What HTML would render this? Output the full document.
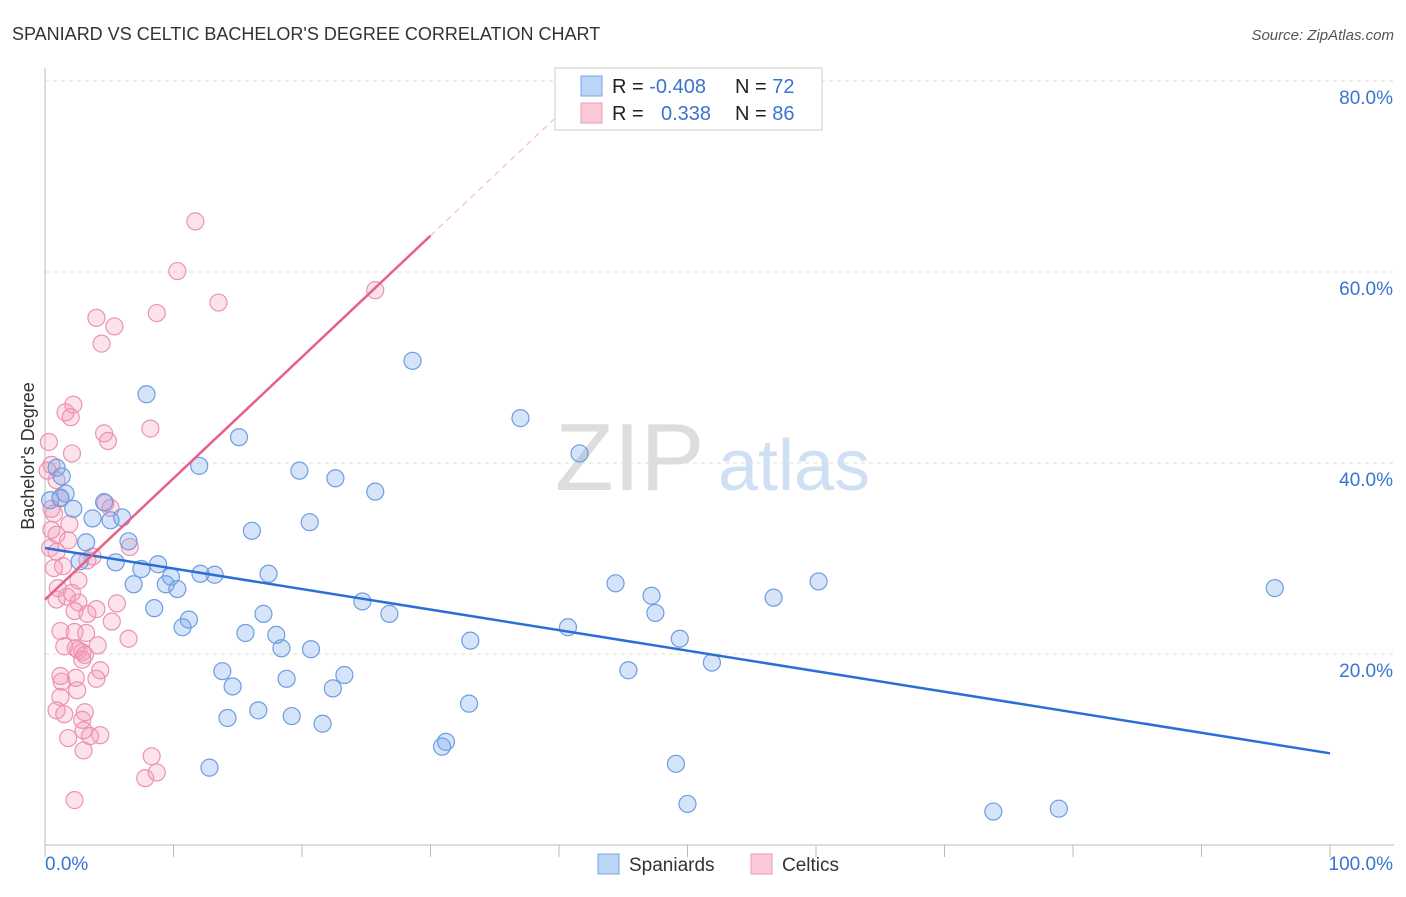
<!DOCTYPE html>
<html><head><meta charset="utf-8"><style>
body{margin:0;background:#fff;font-family:"Liberation Sans",sans-serif;}
svg text{font-family:"Liberation Sans",sans-serif;}
</style></head><body>
<svg id="chart" width="1406" height="892" xmlns="http://www.w3.org/2000/svg">
<text x="12" y="40" font-size="18" fill="#333">SPANIARD VS CELTIC BACHELOR'S DEGREE CORRELATION CHART</text>
<text x="1394" y="40" font-size="15" fill="#555" text-anchor="end" font-style="italic">Source: ZipAtlas.com</text>
<g>
<text x="555" y="490" font-size="96" fill="#ddd" font-family="Liberation Serif, serif">ZIP</text>
<text x="718" y="490" font-size="72" fill="#cfe0f4">atlas</text>
</g>
<text transform="translate(34,456) rotate(-90)" font-size="18" fill="#333" text-anchor="middle">Bachelor's Degree</text>
<g id="grid"></g>
<g id="axes"></g>
<g id="marks"></g>
<g>
<rect x="555" y="68" width="267" height="62" fill="#fff" stroke="#ddd" stroke-width="1.5"/>
<rect x="581" y="76" width="21" height="20" fill="#bcd4f6" stroke="#7aa6e6"/>
<rect x="581" y="103" width="21" height="20" fill="#fbc8d8" stroke="#ee9ab6"/>
<text x="612" y="93" font-size="20" fill="#222">R = <tspan fill="#3a74d0">-0.408</tspan></text>
<text x="735" y="93" font-size="20" fill="#222">N = <tspan fill="#3a74d0">72</tspan></text>
<text x="612" y="120" font-size="20" fill="#222">R = <tspan fill="#3a74d0" x="661">0.338</tspan></text>
<text x="735" y="120" font-size="20" fill="#222">N = <tspan fill="#3a74d0">86</tspan></text>
</g>
<g>
<rect x="598" y="854" width="21" height="20" fill="#bcd4f6" stroke="#7aa6e6"/>
<text x="629" y="871" font-size="19" fill="#333">Spaniards</text>
<rect x="751" y="854" width="21" height="20" fill="#fbc8d8" stroke="#ee9ab6"/>
<text x="782" y="871" font-size="19" fill="#333">Celtics</text>
</g>
</svg>
<script>
const yTicks=[20,40,60,80];
const yTickLabels=["20.0%","40.0%","60.0%","80.0%"];
const xTicks=[0,10,20,30,40,50,60,70,80,90,100];
const xTickLabels=["0.0%","100.0%"];
const blueX=[7.9,28.6,37.0,15.1,41.6,12.0,19.8,22.6,25.7,0.9,1.3,1.6,1.2,4.6,2.2,3.7,5.1,6.0,20.6,16.1,3.2,6.5,2.7,5.5,8.8,7.5,9.8,12.1,13.2,17.4,6.9,9.4,10.3,44.4,60.2,95.7,24.7,47.2,56.7,8.5,17.0,26.8,47.5,11.2,10.7,40.7,15.6,18.0,33.1,49.4,18.4,20.7,51.9,13.8,45.4,23.3,14.6,18.8,22.4,33.0,16.6,14.2,19.2,21.6,31.2,30.9,12.8,49.1,50.0,73.8,78.9,0.4];
const blueY=[47.2,50.7,44.7,42.7,41.0,39.7,39.2,38.4,37.0,39.5,38.6,36.8,36.3,35.9,35.2,34.2,34.0,34.3,33.8,32.9,31.7,31.8,29.7,29.6,29.4,28.9,28.1,28.4,28.3,28.4,27.3,27.3,26.8,27.4,27.6,26.9,25.5,26.1,25.9,24.8,24.2,24.2,24.3,23.6,22.8,22.8,22.2,22.0,21.4,21.6,20.6,20.5,19.1,18.2,18.3,17.8,16.6,17.4,16.4,14.8,14.1,13.3,13.5,12.7,10.8,10.3,8.1,8.5,4.3,3.5,3.8,36.1];
const pinkX=[11.7,10.3,13.5,25.7,4.0,5.4,8.7,4.4,2.2,1.6,2.0,8.2,4.6,4.9,0.3,2.1,0.5,0.2,0.9,1.2,0.5,0.7,5.1,4.7,1.9,0.5,0.9,1.8,0.4,0.9,0.7,6.6,3.7,1.4,2.6,2.1,1.7,0.9,2.6,5.6,4.0,5.2,2.3,3.3,1.2,2.3,3.2,6.5,4.1,1.5,2.6,2.9,3.1,2.4,2.9,4.3,1.2,2.4,4.0,1.3,2.5,1.2,0.9,1.5,3.1,2.9,3.0,4.3,1.8,3.5,3.0,8.3,7.8,8.7,2.3,1.0,3.3];
const pinkY=[65.3,60.1,56.8,58.1,55.2,54.3,55.7,52.5,46.1,45.3,44.8,43.6,43.1,42.3,42.2,41.0,39.8,39.2,38.2,36.4,35.2,34.7,35.3,35.8,33.6,33.0,32.5,31.9,31.1,30.7,29.0,31.2,30.2,29.2,27.7,26.4,26.0,25.7,25.4,25.3,24.7,23.4,24.5,24.2,22.4,22.3,22.2,21.6,20.9,20.8,20.4,20.2,19.9,20.6,19.4,18.3,17.7,17.5,17.4,17.1,16.2,15.5,14.1,13.7,13.9,13.1,12.0,11.5,11.2,11.4,9.9,9.3,7.0,7.6,4.7,26.9,29.8];
const blueTrend=[31.1,-0.215]; // intercept, slope
const pinkTrend=[25.7,1.27];
const pinkSolidEnd=30, pinkDashEnd=42.8;

const NS="http://www.w3.org/2000/svg";
const X0=45,X1=1330,Y0=845,PPY=9.55;
const sx=v=>X0+(X1-X0)*v/100;
const sy=v=>Y0-v*PPY;
function mk(tag,attrs,parent){const e=document.createElementNS(NS,tag);for(const k in attrs)e.setAttribute(k,attrs[k]);parent.appendChild(e);return e;}
const grid=document.getElementById('grid'),axes=document.getElementById('axes'),marks=document.getElementById('marks');
yTicks.forEach((t,i)=>{
 const l=mk('line',{x1:X0,x2:1394,y1:sy(t),y2:sy(t),stroke:'#ddd','stroke-dasharray':'4,4'},grid);
 
 
 const tx=mk('text',{x:1393,y:sy(t)+23,'font-size':19,fill:'#3a74d0','text-anchor':'end'},axes);
 tx.textContent=yTickLabels[i];
 
 
});
const ax=mk('line',{x1:X0,x2:1394,y1:Y0,y2:Y0,stroke:'#bbb'},axes);


const ay=mk('line',{x1:X0,x2:X0,y1:68,y2:Y0,stroke:'#bbb'},axes);


xTicks.forEach(t=>{
 const l=mk('line',{x1:sx(t),x2:sx(t),y1:Y0,y2:Y0+12,stroke:'#bbb'},axes);
 
 
});
const xl0=mk('text',{x:45,y:870,'font-size':19,fill:'#3a74d0'},axes);xl0.textContent=xTickLabels[0];


const xl1=mk('text',{x:1393,y:870,'font-size':19,fill:'#3a74d0','text-anchor':'end'},axes);xl1.textContent=xTickLabels[1];


pinkX.forEach((v,i)=>{
 const c=mk('circle',{cx:sx(v),cy:sy(pinkY[i]),r:8.5,fill:'rgba(243,150,182,0.28)',stroke:'#ec93b2','stroke-width':1.2},marks);
 
 
});
blueX.forEach((v,i)=>{
 const c=mk('circle',{cx:sx(v),cy:sy(blueY[i]),r:8.5,fill:'rgba(120,165,235,0.3)',stroke:'#6d9de2','stroke-width':1.2},marks);
 
 
});
const bt=mk('line',{x1:sx(0),y1:sy(blueTrend[0]),x2:sx(100),y2:sy(blueTrend[0]+blueTrend[1]*100),stroke:'#2a6fd6','stroke-width':2.5},marks);


const pt=mk('line',{x1:sx(0),y1:sy(pinkTrend[0]),x2:sx(pinkSolidEnd),y2:sy(pinkTrend[0]+pinkTrend[1]*pinkSolidEnd),stroke:'#e8608a','stroke-width':2.5},marks);


const pd=mk('line',{x1:sx(pinkSolidEnd),y1:sy(pinkTrend[0]+pinkTrend[1]*pinkSolidEnd),x2:sx(pinkDashEnd),y2:sy(pinkTrend[0]+pinkTrend[1]*pinkDashEnd),stroke:'#f0b0c4','stroke-width':1,'stroke-dasharray':'6,5'},marks);


</script>
</body></html>
